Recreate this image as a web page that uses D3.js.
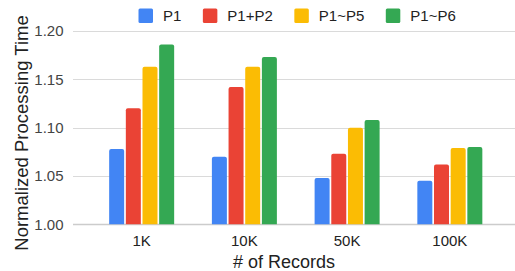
<!DOCTYPE html>
<html>
<head>
<meta charset="utf-8">
<script src="https://cdn.jsdelivr.net/npm/d3@7"></script>
<style>
  body { margin: 0; background: #fff; }
  svg { display: block; font-family: "Liberation Sans", Arial, sans-serif; }
</style>
</head>
<body>
<svg class="graph" width="515" height="271"></svg>
<script>
// data
var categories = ["1K", "10K", "50K", "100K"];
var series = ["P1", "P1+P2", "P1~P5", "P1~P6"];
var colors = ["#4285F4", "#EA4335", "#FBBC04", "#34A853"];
var p1     = [1.078, 1.070, 1.048, 1.045];
var p1p2   = [1.120, 1.142, 1.073, 1.062];
var p1p5   = [1.163, 1.163, 1.100, 1.079];
var p1p6   = [1.186, 1.173, 1.108, 1.080];
var yTicks = [1.00, 1.05, 1.10, 1.15, 1.20];

var values = [p1, p1p2, p1p5, p1p6];

var svg = d3.select(".graph");
var width = 515, height = 271;

var y = d3.scaleLinear().domain([1.0, 1.2]).range([224.3, 31]);
var x0 = d3.scaleBand().domain(categories).range([90.3, 501.2]).padding(0);
var x1 = d3.scaleBand().domain(series).range([0, 65]).paddingInner(0.1);

// gridlines
svg.append("g").attr("class", "grid")
  .selectAll("line")
  .data(yTicks)
  .enter().append("line")
  .attr("x1", 73).attr("x2", width)
  .attr("y1", function (d) { return Math.round(y(d)) + 0.5; })
  .attr("y2", function (d) { return Math.round(y(d)) + 0.5; })
  .attr("stroke", function (d) { return d === 1.0 ? "#cccccc" : "#dadada"; })
  .attr("stroke-width", function (d) { return d === 1.0 ? 1.5 : 1; });

// y tick labels
svg.append("g").attr("class", "yticks")
  .selectAll("text")
  .data(yTicks)
  .enter().append("text")
  .attr("x", 63.5)
  .attr("y", function (d) { return y(d); })
  .attr("dy", "0.36em")
  .attr("text-anchor", "end")
  .attr("font-size", 15)
  .attr("fill", "#444")
  .text(function (d) { return d.toFixed(2); });

// bars with rounded top corners
function barPath(x, yTop, w, yBase, r) {
  r = Math.min(r, (yBase - yTop) / 2);
  return "M" + x + "," + yBase +
    "V" + (yTop + r) +
    "Q" + x + "," + yTop + " " + (x + r) + "," + yTop +
    "H" + (x + w - r) +
    "Q" + (x + w) + "," + yTop + " " + (x + w) + "," + (yTop + r) +
    "V" + yBase + "Z";
}

var barData = [];
categories.forEach(function (c, i) {
  series.forEach(function (s, j) {
    barData.push({cat: c, ser: s, idx: j, v: values[j][i]});
  });
});

svg.append("g").attr("class", "bars")
  .selectAll("path")
  .data(barData)
  .enter().append("path")
  .attr("d", function (d) {
    var bx = x0(d.cat) + x0.bandwidth() / 2 - 32.5 + x1(d.ser);
    return barPath(bx, y(d.v), x1.bandwidth(), y(1.0), 2);
  })
  .attr("fill", function (d) { return colors[d.idx]; });

// x tick labels
svg.append("g").attr("class", "xticks")
  .selectAll("text")
  .data(categories)
  .enter().append("text")
  .attr("x", function (d) { return x0(d) + x0.bandwidth() / 2; })
  .attr("y", 246)
  .attr("text-anchor", "middle")
  .attr("font-size", 15)
  .attr("fill", "#222")
  .text(function (d) { return d; });

// axis titles
svg.append("text")
  .attr("x", 284)
  .attr("y", 268)
  .attr("text-anchor", "middle")
  .attr("font-size", 18)
  .attr("fill", "#222")
  .text("# of Records");

svg.append("text")
  .attr("transform", "translate(28,133) rotate(-90)")
  .attr("text-anchor", "middle")
  .attr("font-size", 18.5)
  .attr("fill", "#222")
  .text("Normalized Processing Time");

// legend
var legend = svg.append("g").attr("class", "legend");
var lx = 138.5;
series.forEach(function (s, i) {
  legend.append("rect")
    .attr("x", lx).attr("y", 8.5)
    .attr("width", 14.5).attr("height", 14.5)
    .attr("rx", 1.5)
    .attr("fill", colors[i]);
  var t = legend.append("text")
    .attr("x", lx + 24.5)
    .attr("y", 21)
    .attr("font-size", 15)
    .attr("fill", "#222")
    .text(s);
  lx = lx + 24.5 + t.node().getComputedTextLength() + 21.5;
});
</script>
</body>
</html>
